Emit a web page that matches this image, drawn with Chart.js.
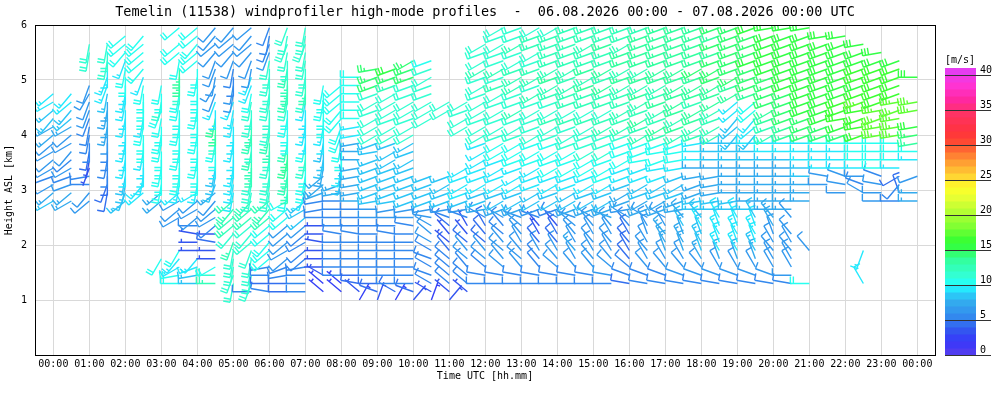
<!DOCTYPE html>
<html>
<head>
<meta charset="utf-8">
<script src="https://cdn.jsdelivr.net/npm/chart.js@4.4.1/dist/chart.umd.min.js"></script>
<style>
  html,body{margin:0;padding:0;background:#fff}
  #wrap{width:1000px;height:400px}
</style>
</head>
<body>
<div id="wrap"><canvas id="chart" width="1000" height="400"></canvas></div>
<script>
/* wind profiler barbs - Temelin 06.08.2026 */

// profile times [h UTC] and range gates [km ASL]
const times = [0,0.5,1,1.5,2,2.5,3,3.5,4,4.5,5,5.5,6,6.5,7,7.5,8,8.5,9,9.5,10,10.5,11,11.5,12,
  12.5,13,13.5,14,14.5,15,15.5,16,16.5,17,17.5,18,18.5,19,19.5,20,20.5,21,21.5,22,22.5,23,23.5,24];
const heights = [1.00,1.15,1.30,1.45,1.60,1.75,1.90,2.05,2.20,2.35,2.50,2.65,2.80,2.95,3.10,3.25,3.40,
  3.55,3.70,3.85,4.00,4.15,4.30,4.45,4.60,4.75,4.90,5.05,5.20,5.35,5.50,5.65,5.80,5.95];

const hourTicks = [0,1,2,3,4,5,6,7,8,9,10,11,12,13,14,15,16,17,18,19,20,21,22,23,24];
const heightTicks = [0,1,2,3,4,5,6];
const speedTicks = [0,5,10,15,20,25,30,35,40];

// one string per profile, one char per gate from the lowest up
// speed in m/s (base 36, '.' = no data), spaces only group the gates by five
const speedCols = [
  "..... ..... ..876 56666 77889 9.... ....",
  "..... ..... ..776 56566 67889 9.... ....",
  "..... ..... ..665 53345 55566 66... bb..",
  "..... ..... ...44 45555 67777 8999b bb..",
  "..... ..... ..888 89999 99999 99aa9 aaa.",
  "..... ..... ...99 9999a aa9aa aa9aa aaa.",
  "..... a.... ..77a aaaaa aaaab aa... ....",
  "..aa9 9a... 66699 aaaaa aaaaa abdda aa.a",
  "..889 93335 66699 aaaaa aaaaa aaaaa aaaa",
  "..cba 33435 66678 889aa bdd99 66666 6666",
  "..bbb bbcbc ccc99 99999 99999 66556 6666",
  ".5bbb bbbbb cccbb bcccb ccbbb a9966 6666",
  ".5455 aaaaa cccbb bbbbc cbbbb bbbbb 6555",
  ".4455 66666 aaaac ccddc aaaab ccccb bbbb",
  ".5555 55556 8889a aabba 99999 bcbbb bbbb",
  ".2233 33333 55577 77888 99aaa aa... ....",
  ".2255 55555 55577 899aa aaaaa aa... ....",
  "23445 55555 55777 77777 99aaa aaa.. ....",
  "34455 55555 66888 88888 bbbbb beee. ....",
  "24555 55555 66888 88888 bbbbb bcef. ....",
  "34555 55555 66888 88888 bbbbb bbeee ....",
  "23555 55666 66888 8.... ..bbb bbbba ....",
  "33555 54334 56888 8.... ...bb ..... ....",
  ".3555 66433 56899 99... .bbbb ..... ....",
  "..555 66444 57889 99999 bbbbb bbbcb bb..",
  "..556 66655 67889 999aa bbbbb bcbcb bbbb",
  "..556 66666 67889 99aaa bbbcb bcccb bcbb",
  "..555 56433 56889 99aaa bbbbb cbccb bccb",
  "..556 66443 55889 9aaaa bbcbb ccdcc cccb",
  "..556 67666 67889 9aaab bbcbc ccccc cccc",
  "..556 66666 67889 9aabb bbcbc cdcdc cccc",
  "..566 66666 77889 aaabb bccbc cdcdc cdcc",
  "..455 44445 66778 99aaa bcccc ccdcd dccc",
  "..556 66666 67788 99aaa ccdcc dcdcd dddc",
  "..556 67776 67788 99aaa cdccd ccddd dddd",
  "..566 67778 77788 89aaa cdcdd ddddd dddd",
  "..566 78889 88877 77999 ccddc ddded dddd",
  "..566 79999 98877 77888 ccccd ddeee dede",
  "..566 79999 98877 77888 88899 ddeee eeee",
  "..566 78999 88777 77889 899aa deeef eeef",
  "..566 66667 77777 77899 ccdde eeeff ffff",
  "..566 6666. 67777 77899 ddeee effff ffff",
  "..a.. .6... ..777 88999 eeeff fffff ffff",
  "..... ..... ....6 6999a eefff fffff fff.",
  "..... ..... ...66 6999a efggg fffff fff.",
  "..9.. .9... ...65 69aaa ggggh gfggf ff..",
  "..... ..... ..666 5aaaa hhhhg ggggf f...",
  "..... ..... ..545 49aaa hhhhh ggggf ....",
  "..... ..... ..77. 6.9ad ef.hh ..f.. ...."
];
// direction the wind blows from, in tens of degrees (base 36: i=180, r=270, x=330)
const dirCols = [
  "..... ..... ..ono ponon nomno n.... ....",
  "..... ..... ..onp ponmo nonmn m.... ....",
  "..... ..... ..nmr qkjji jjkkk lk... jj..",
  "..... ..... ...jk iijii ijiji jkkij ij..",
  "..... ..... ..nkj jijij iijij jiijk mnn.",
  "..... ..... ...nm jiiji ijjii ijkmn nnm.",
  "..... l.... ..nnj ijiij jijkj ij... ....",
  "..rqo ml... ononj jiiji ijiij jiiij nn.n",
  "..rqp mrrsr nonoj iijii jiiji iijin nmnn",
  "..rro rrsrn onmnk jjiij iijik kljkk mnmm",
  "..jkj jjkmn nmnjj jjiij iijjk jjijk mnnm",
  ".rkjj jknmn nnmjj jiiji jijij jkkjk mnmn",
  ".srrq nnmnn nmnjj jijii jjiij jijij kkjk",
  ".rrqp nonnn nnoji jijij iijij jiiji jkjk",
  ".rrrq nnonn nonkj jijij ijiij jijij jkjj",
  ".vvur rrsrr rqqpn njjij ijiij ij... ....",
  ".vvrr rrrsr rrrqp jjiij kkmmn nn... ....",
  "3vsrr rrrsr rrrqq qqrrq qqrrr rrr.. ....",
  "2trrr rrrrr rrqpp pppqp ooopo pppq. ....",
  "3urrr rrrsr rqqpp ppoop oopoo oppp. ....",
  "4trrr rrrrs rqppp ppopo oopoo ppppo ....",
  "2uutu tuuvu sqppp p.... ..ooo ppopp ....",
  "4vvvv vwvwv tqppo p.... ...oo ..... ....",
  ".vvvw vwvwx tqppo po... .oopo ..... ....",
  "..rsv vwvwx uqppo ppoop oopoo popoo po..",
  "..rsv wvwvw upopo popoo popop oppop popo",
  "..rsw vwxwv tpopo oppoo popop poopo popp",
  "..rsw wxwxw tpoop popop oppop opopp oppo",
  "..rsv wxwxw upopo popop popop popop pppo",
  "..rsw xwxwv tpoop popop oppop popop pppp",
  "..rsw wxwxw upopo pooop popop ppopp popp",
  "..rsv wxwxw tpopo popop popop popop pppp",
  "..stv wxwxw uqpop ppopp popop popop popp",
  "..stw xwxyx upopo ppqpp opopo popop pppp",
  "..stw xyxwx upopo pqpqp popop popop pppp",
  "..stw xyxyx wqppo pqqqp opopo popop pppp",
  "..stw xyxyx wrqpp qrrrq popop popop pppp",
  "..stx yxyxy xrqqq qrrrr oopoo popop pppp",
  "..stx yxyxy xrqrr rrrrr mnmnn opopp pppp",
  "..stx yxyxy xrrrr rrrrr mnmnn ppppp pppp",
  "..stx xwxyx wrrrr rrrrr oppop ppppp pppq",
  "..srx xwxw. wrrrr rrrrr ppppp ppppp pppq",
  "..r.. .w... ..rrr rrrrr ppppp ppppp pppq",
  "..... ..... ....r srrrr ppppp ppppp ppq.",
  "..... ..... ...rs trrrr ppqpp ppppp ppq.",
  "..x.. .k... ...ut rrrrr pqpqp ppppp pq..",
  "..... ..... ..rrs trrrr qqpqp ppppp q...",
  "..... ..... ..rym orrrr qqqpq ppppp ....",
  "..... ..... ..rr. p.rrq qq.qq ..r.. ...."
];

// colour table of the speed legend, 1 m/s steps
const colourStops = [
  [0,80,60,240],[1.5,55,55,250],[3,51,85,240],[5,51,136,238],[7,51,170,238],[8.5,40,210,250],
  [9.5,34,255,255],[11,51,255,210],[13,51,255,160],[15,51,255,70],[16,60,255,51],[18,130,255,51],
  [20,180,255,51],[22,230,255,51],[23.5,255,255,40],[25,255,215,51],[27,255,160,51],[29,255,100,51],
  [30.5,255,60,51],[32,255,51,70],[34,255,51,100],[36,255,40,160],[38,255,51,210],[40,230,60,240]
];
function bandColour(v){
  const st = colourStops;
  if(v<=st[0][0]) return `rgb(${st[0][1]},${st[0][2]},${st[0][3]})`;
  for(let i=0;i<st.length-1;i++){
    const a=st[i], b=st[i+1];
    if(v<=b[0]){
      const f=(v-a[0])/(b[0]-a[0]);
      const c=[1,2,3].map(n=>Math.round(a[n]+(b[n]-a[n])*f));
      return `rgb(${c[0]},${c[1]},${c[2]})`;
    }
  }
  const z=st[st.length-1];
  return `rgb(${z[1]},${z[2]},${z[3]})`;
}

const points = [];
speedCols.forEach((col,j)=>{
  const sp = col.replace(/ /g,''), dr = dirCols[j].replace(/ /g,'');
  for(let k=0;k<heights.length;k++){
    const c = sp[k];
    if(!c || c==='.') continue;
    points.push({x:times[j], y:heights[k], s:parseInt(c,36), d:parseInt(dr[k],36)*10});
  }
});

const FONT = 'DejaVu Sans Mono';

function drawBarb(ctx,x,y,s,d){
  const r = d*Math.PI/180;
  const ux = Math.sin(r), uy = -Math.cos(r);   // staff, towards where the wind comes from
  const fx = Math.cos(r), fy = Math.sin(r);    // feathers on the clockwise side
  const L = 19, F = 7, gap = 3;
  const tx = x+ux*L, ty = y+uy*L;
  ctx.strokeStyle = bandColour(Math.floor(s));
  ctx.beginPath();
  ctx.moveTo(x,y); ctx.lineTo(tx,ty);
  let kt = Math.round(s*1.944/5)*5;
  const full = Math.floor(kt/10); kt -= full*10;
  let pos = 0;
  for(let i=0;i<full;i++){
    const bx=tx-ux*pos, by=ty-uy*pos;
    ctx.moveTo(bx,by); ctx.lineTo(bx+fx*F, by+fy*F);
    pos+=gap;
  }
  if(kt>=5){
    if(pos===0) pos=gap;
    const bx=tx-ux*pos, by=ty-uy*pos;
    ctx.moveTo(bx,by); ctx.lineTo(bx+fx*F*0.5, by+fy*F*0.5);
  }
  ctx.stroke();
}

const barbPlugin = {
  id:'barbs',
  afterDatasetsDraw(chart){
    const {ctx, chartArea:a} = chart;
    const meta = chart.getDatasetMeta(0);
    const data = chart.data.datasets[0].data;
    ctx.save();
    ctx.beginPath(); ctx.rect(a.left, a.top, a.right-a.left, a.bottom-a.top); ctx.clip();
    ctx.lineWidth = 1.4;
    ctx.lineCap = 'butt';
    meta.data.forEach((el,i)=> drawBarb(ctx, el.x, el.y, data[i].s, data[i].d));
    ctx.restore();
  },
  afterDraw(chart){
    const {ctx, chartArea:a} = chart;
    ctx.save();
    // frame
    ctx.strokeStyle = '#000'; ctx.lineWidth = 1;
    ctx.strokeRect(Math.round(a.left)+0.5, Math.round(a.top)+0.5, Math.round(a.right-a.left), Math.round(a.bottom-a.top));
    // speed legend
    const cs = chart.scales.c;
    for(let i=0;i<=40;i++){
      const y0 = cs.getPixelForValue(i), y1 = cs.getPixelForValue(i+1);
      ctx.fillStyle = bandColour(i);
      ctx.fillRect(945, y1, 31, y0-y1+0.5);
    }
    ctx.strokeStyle = '#333';
    ctx.fillStyle = '#000';
    ctx.font = `10px "${FONT}"`;
    ctx.textBaseline = 'alphabetic';
    ctx.textAlign = 'left';
    speedTicks.forEach(v=>{
      const y = Math.round(cs.getPixelForValue(v))+0.5;
      ctx.beginPath(); ctx.moveTo(945,y); ctx.lineTo(991,y); ctx.stroke();
      ctx.fillText(String(v), 980, y-2.5);
    });
    ctx.fillText('[m/s]', 945, 63);
    ctx.restore();
  }
};

new Chart(document.getElementById('chart'), {
  type:'scatter',
  data:{datasets:[{data:points, pointRadius:0, pointHoverRadius:0, showLine:false}]},
  options:{
    responsive:false,
    animation:false,
    events:[],
    layout:{padding:{left:0, right:65, top:0, bottom:0}},
    plugins:{
      legend:{display:false},
      tooltip:{enabled:false},
      title:{
        display:true,
        fullSize:false,
        text:'Temelin (11538) windprofiler high-mode profiles  -  06.08.2026 00:00 - 07.08.2026 00:00 UTC',
        color:'#000',
        font:{family:FONT, size:13.5, weight:'normal'},
        padding:{top:4, bottom:4.8}
      }
    },
    scales:{
      x:{
        type:'linear', min:-0.51, max:24.49,
        afterBuildTicks:s=>{ s.ticks = hourTicks.map(v=>({value:v})); },
        afterFit:s=>{ s.height = 45; },
        grid:{color:'#d9d9d9', lineWidth:1, drawTicks:false},
        border:{display:false},
        ticks:{color:'#000', font:{family:FONT, size:10}, padding:3, maxRotation:0, autoSkip:false,
          callback:v=>String(v%24).padStart(2,'0')+':00'},
        title:{display:true, text:'Time UTC [hh.mm]', color:'#000', font:{family:FONT, size:10}, padding:{top:0, bottom:18}}
      },
      y:{
        type:'linear', min:0, max:6,
        afterBuildTicks:s=>{ s.ticks = heightTicks.map(v=>({value:v})); },
        afterFit:s=>{ s.width = 35; },
        grid:{color:'#d9d9d9', lineWidth:1, drawTicks:false},
        border:{display:false},
        ticks:{color:'#000', font:{family:FONT, size:10}, padding:8, callback:v=> v===0 ? '' : String(v)},
        title:{display:true, text:'Height ASL [km]', color:'#000', font:{family:FONT, size:10}, padding:{top:3, bottom:0}}
      },
      c:{type:'linear', axis:'y', position:'right', display:false, min:0, max:330/7}
    }
  },
  plugins:[barbPlugin]
});
</script>
</body>
</html>
